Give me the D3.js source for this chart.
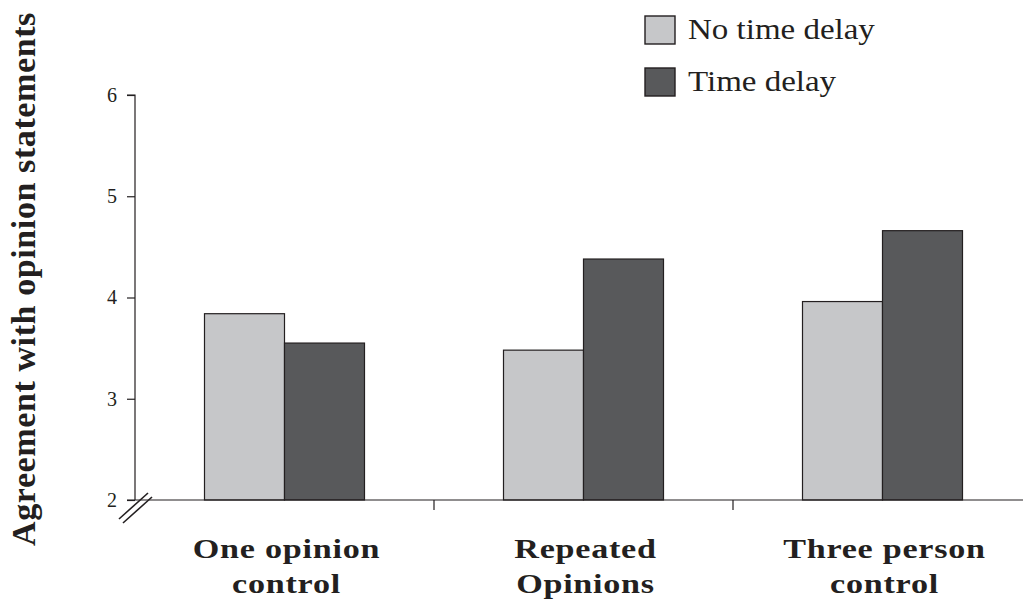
<!DOCTYPE html>
<html><head><meta charset="utf-8">
<script src="https://cdn.jsdelivr.net/npm/d3@7"></script>
<style>body{margin:0;background:#fff}svg{display:block}</style>
</head><body>
<svg id="c" width="1023" height="602"></svg>
<script>
const categories = [["One opinion","control"],["Repeated","Opinions"],["Three person","control"]];
const seriesNames = ["No time delay","Time delay"];
const noDelay = [3.84, 3.48, 3.96];
const delay = [3.55, 4.38, 4.66];
const yTicks = [2,3,4,5,6];
const colors = ["#c6c7c9","#58595b"];

const svg = d3.select("#c");
const x = d3.scaleBand().domain(d3.range(categories.length)).range([135, 1032]).paddingInner(0).paddingOuter(0);
const y = d3.scaleLinear().domain([2,6]).range([500, 95]);
const inner = d3.scaleBand().domain([0,1]).range([0,160]);
const font = "'Liberation Serif','Times New Roman',serif";
const ink = "#231f20";

// bars
const series = [noDelay, delay];
series.forEach((vals, si) => {
  svg.append("g").selectAll("rect").data(vals).join("rect")
    .attr("x", (d,i) => x(i) + (x.bandwidth()-160)/2 + inner(si))
    .attr("y", d => y(d))
    .attr("width", inner.bandwidth())
    .attr("height", d => y(2) - y(d))
    .attr("fill", colors[si])
    .attr("stroke", ink).attr("stroke-width", 1.2);
});

// y axis
const yAxis = svg.append("g").attr("transform","translate(135,0)")
  .call(d3.axisLeft(y).tickValues(yTicks).tickSize(8).tickPadding(10).tickFormat(d3.format("d")));
yAxis.select(".domain").attr("stroke",ink).attr("stroke-width",1.2).attr("d","M-8,95H0V500");
yAxis.selectAll(".tick line").attr("stroke",ink).attr("stroke-width",1.2);
yAxis.selectAll(".tick text").attr("font-family",font).attr("font-size",20).attr("fill",ink);

// x axis
const xAxis = svg.append("g").attr("transform","translate(0,500)")
  .call(d3.axisBottom(x).tickSize(0).tickFormat(""));
xAxis.select(".domain").attr("stroke",ink).attr("stroke-width",1.2).attr("d","M127,0H1023");
xAxis.selectAll(".tick line").remove();
svg.append("g").selectAll("line").data(d3.range(1,categories.length)).join("line")
  .attr("x1", i => x(i)).attr("x2", i => x(i)).attr("y1",500).attr("y2",510)
  .attr("stroke",ink).attr("stroke-width",1.2);

// category labels
categories.forEach((lines,i) => {
  lines.forEach((l,k) => {
    svg.append("text").attr("text-anchor","middle")
      .attr("transform", `translate(${x(i)+x.bandwidth()/2 + 2},${558 + k*35}) scale(1.22,1)`)
      .attr("font-family",font).attr("font-weight","bold").attr("font-size",28)
      .attr("letter-spacing",0.6).attr("fill",ink).text(l);
  });
});

// axis break
const br = svg.append("g").attr("stroke",ink).attr("stroke-width",1.6);
br.append("line").attr("x1",119).attr("y1",519).attr("x2",148).attr("y2",493);
br.append("line").attr("x1",123).attr("y1",523).attr("x2",152).attr("y2",497);

// y title
svg.append("text").attr("transform","translate(35,279) rotate(-90)")
  .attr("text-anchor","middle").attr("font-family",font).attr("font-weight","bold")
  .attr("font-size",34).attr("letter-spacing",0.6).attr("fill",ink)
  .text("Agreement with opinion statements");

// legend
const lg = svg.append("g");
seriesNames.forEach((n,i) => {
  lg.append("rect").attr("x",645).attr("y",16+i*52).attr("width",30).attr("height",28)
    .attr("fill",colors[i]).attr("stroke",ink).attr("stroke-width",1.4);
  lg.append("text").attr("transform",`translate(688,${39+i*52}) scale(1.1,1)`)
    .attr("font-family",font).attr("font-size",30)
    .attr("fill",ink).text(n);
});
</script>
</body></html>
